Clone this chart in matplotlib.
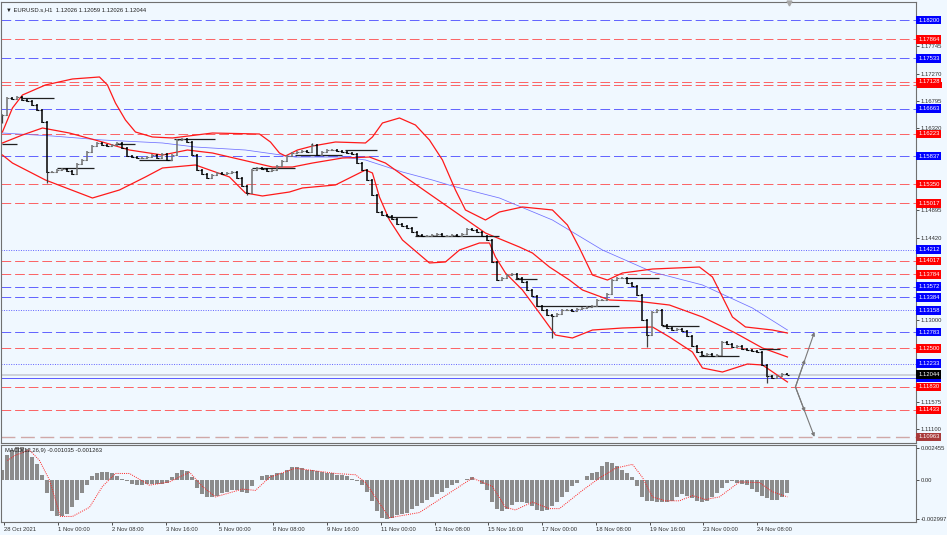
#!/usr/bin/env python3
"""
EURUSD H1 chart (MT4 style) — price bars, Bollinger envelope, MA,
support/resistance levels and MACD(12,26,9) sub-window.
"""

import numpy as np
import matplotlib
matplotlib.use("Agg")
import matplotlib.pyplot as plt
from matplotlib.patches import Rectangle
from matplotlib.transforms import blended_transform_factory

# ─── TEXTS ────────────────────────────────────────────────────────
TITLE_TEXT = "\u25BC EURUSD.s,H1  1.12026 1.12059 1.12026 1.12044"
MACD_TEXT = "MACD(12,26,9) -0.001035 -0.001263"

# ─── PRICE (one value per grid step, ~3 H1 bars) ──────────────────
closes = [
    1.16551, 1.16846, 1.16829, 1.16863, 1.16811, 1.16794, 1.16724, 1.16638,
    1.16429, 1.15561, 1.15561, 1.15596, 1.15613, 1.15578, 1.15526, 1.15700,
    1.15769, 1.15908, 1.16012, 1.16065, 1.16030, 1.16012, 1.16030, 1.16065,
    1.15978, 1.15839, 1.15821, 1.15804, 1.15804, 1.15821, 1.15856, 1.15804,
    1.15874, 1.15769, 1.15856, 1.16117, 1.16134, 1.16082, 1.15856, 1.15596,
    1.15526, 1.15457, 1.15509, 1.15544, 1.15526, 1.15544, 1.15561, 1.15457,
    1.15318, 1.15197, 1.15596, 1.15631, 1.15613, 1.15578, 1.15596, 1.15665,
    1.15752, 1.15839, 1.15891, 1.15908, 1.15926, 1.15908, 1.16030, 1.15856,
    1.15908, 1.15943, 1.15943, 1.15926, 1.15908, 1.15891, 1.15874, 1.15717,
    1.15596, 1.15422, 1.15162, 1.14867, 1.14815, 1.14797, 1.14745, 1.14658,
    1.14624, 1.14589, 1.14520, 1.14467, 1.14450, 1.14450, 1.14467, 1.14485,
    1.14450, 1.14450, 1.14467, 1.14450, 1.14485, 1.14572, 1.14554, 1.14520,
    1.14450, 1.14381, 1.13999, 1.13686, 1.13721, 1.13773, 1.13790, 1.13721,
    1.13652, 1.13513, 1.13408, 1.13235, 1.13165, 1.13079, 1.13061, 1.13096,
    1.13165, 1.13165, 1.13148, 1.13183, 1.13200, 1.13218, 1.13235, 1.13339,
    1.13339, 1.13443, 1.13686, 1.13721, 1.13721, 1.13634, 1.13582, 1.13426,
    1.12992, 1.12731, 1.13131, 1.13165, 1.12905, 1.12853, 1.12818, 1.12836,
    1.12801, 1.12714, 1.12540, 1.12436, 1.12384, 1.12402, 1.12367, 1.12384,
    1.12610, 1.12575, 1.12523, 1.12540, 1.12488, 1.12471, 1.12454, 1.12436,
    1.12211, 1.12020, 1.11985, 1.12020, 1.12054, 1.12044,
]
# single-bar wicks
spike_k = [0, 9, 49, 62, 110, 129, 153]
spike_price = [1.16412, 1.15370, 1.15162, 1.16065, 1.12679, 1.12523, 1.11898]

# ─── BOLLINGER ENVELOPE (red) ─────────────────────────────────────
bb_up_k = [0, 2, 4, 8.6, 14, 19.4, 21, 22.6, 24.6, 26.6, 30, 34, 42, 51.4,
           53.6, 55.4, 56.6, 59, 62, 66.6, 72.6, 74, 76, 79.4, 82.6, 85.4,
           88, 90.6, 92.6, 96.6, 99.4, 104, 110, 113, 115.4, 118, 121, 124,
           130, 139.4, 142, 144.6, 146, 148.6, 154, 157]
bb_up = [1.16256, 1.16672, 1.16898, 1.17072, 1.17176, 1.17211, 1.17072,
         1.16759, 1.16464, 1.16256, 1.16169, 1.16152, 1.16238, 1.16221,
         1.16082, 1.15891, 1.15839, 1.15943, 1.16012, 1.16082, 1.16065,
         1.16169, 1.16412, 1.16499, 1.16377, 1.16117, 1.15770, 1.15249,
         1.14902, 1.14728, 1.14867, 1.14954, 1.14902, 1.14641, 1.14242,
         1.13773, 1.13686, 1.13808, 1.13877, 1.13912, 1.13739, 1.13287,
         1.13044, 1.12871, 1.12818, 1.12766]

bb_mid_k = [0, 4, 8, 13.4, 20, 25.4, 32, 37, 42, 48, 54, 58, 62, 68, 73.4,
            76.6, 83.4, 90, 96.6, 100, 103.4, 106, 109.4, 113.4, 116, 121.4,
            126.6, 133.4, 140, 146.6, 152, 157]
bb_mid = [1.16065, 1.16204, 1.16325, 1.16238, 1.16082, 1.15943, 1.15856,
          1.15943, 1.15891, 1.15770, 1.15648, 1.15648, 1.15717, 1.15804,
          1.15821, 1.15717, 1.15301, 1.14902, 1.14502, 1.14381, 1.14259,
          1.14155, 1.13912, 1.13686, 1.13513, 1.13339, 1.13322, 1.13252,
          1.13044, 1.12766, 1.12506, 1.12350]

bb_low_k = [0, 2, 8.6, 18, 23.4, 28.6, 32, 38.6, 45.4, 48.6, 52, 57.4, 60,
            66.6, 72.6, 74, 75.4, 77.4, 80, 85.4, 88.6, 91.4, 95.4, 97.4,
            98.6, 100.6, 104, 107.4, 110.6, 114, 118, 124, 130, 133.4, 138,
            140, 144, 149, 152, 157]
bb_low = [1.15856, 1.15717, 1.15422, 1.15110, 1.15249, 1.15475, 1.15631,
          1.15683, 1.15475, 1.15197, 1.15145, 1.15214, 1.15284, 1.15336,
          1.15596, 1.15544, 1.15127, 1.14728, 1.14381, 1.13982, 1.13999,
          1.14207, 1.14329, 1.14329, 1.14086, 1.13808, 1.13513, 1.13114,
          1.12731, 1.12680, 1.12818, 1.12853, 1.12871, 1.12697, 1.12436,
          1.12159, 1.12089, 1.12228, 1.12211, 1.11916]

# ─── MOVING AVERAGE (blue) ────────────────────────────────────────
ma_k = [0, 10, 20, 32, 38.6, 48.6, 58.6, 68, 72.6, 80, 86, 90, 99.4, 110,
        120, 130, 140, 150, 157]
ma = [1.16238, 1.16186, 1.16117, 1.16065, 1.15995, 1.15943, 1.15821,
      1.15821, 1.15770, 1.15561, 1.15422, 1.15318, 1.15110, 1.14728,
      1.14207, 1.13825, 1.13600, 1.13200, 1.12818]

# ─── BLACK LEVEL SEGMENTS (k start, k end, price) ─────────────────
seg_k0 = [0, 4, 11, 22.6, 27.4, 34.4, 50, 58.6, 68.6, 77, 82.6, 102.6,
          107, 124.6, 132, 139.4, 151.4]
seg_k1 = [3, 10.4, 18.4, 26.6, 34, 42.6, 58.6, 68, 75, 83, 99.4, 107,
          123.4, 131.4, 139.4, 147.4, 155.6]
seg_price = [1.16047, 1.16846, 1.15631, 1.16047, 1.15770, 1.16134, 1.15631,
             1.15856, 1.15943, 1.14780, 1.14450, 1.13704, 1.13235, 1.13721,
             1.12888, 1.12367, 1.12488]

# ─── HORIZONTAL LEVELS ────────────────────────────────────────────
levels_blue = [1.18200, 1.17533, 1.16663, 1.15837, 1.13572, 1.13384, 1.12783]
levels_red = [1.17864, 1.17128, 1.16223, 1.15350, 1.15017, 1.14017,
              1.13784, 1.12500, 1.11830, 1.11433]
level_red_hidden = 1.17080      # second line right under 1.17128, label covered
levels_dotted = [1.14212, 1.13158, 1.12233]
level_low = 1.10963
bid_price = 1.12044
ask_line = 1.11986

price_ticks = [1.17745, 1.17270, 1.16795, 1.16320, 1.14895, 1.14420,
               1.13000, 1.11575, 1.11100]

# projection arrows
arrow_k0, arrow_k1 = 158.6, 162.4
arrow_from = 1.11830
arrow_targets = [1.12783, 1.10963]

# ─── MACD ─────────────────────────────────────────────────────────
macd_hist = [
    0.0008, 0.0019, 0.0023, 0.0025, 0.0025, 0.0024, 0.0018, 0.0012,
    0.0004, -0.0010, -0.0024, -0.0028, -0.0028, -0.0026, -0.0021, -0.0015,
    -0.0010, -0.0004, 0.0003, 0.0005, 0.0006, 0.0006, 0.0005, 0.0003,
    0.0001, -0.0001, -0.0003, -0.0004, -0.0004, -0.0003, -0.0003, -0.0003,
    -0.0003, -0.0002, 0.0002, 0.0005, 0.0008, 0.0007, 0.0002, -0.0006,
    -0.0011, -0.0013, -0.0013, -0.0012, -0.0010, -0.0009, -0.0008, -0.0008,
    -0.0009, -0.0010, -0.0005, 0.0000, 0.0003, 0.0004, 0.0004, 0.0005,
    0.0005, 0.0008, 0.0010, 0.0010, 0.0009, 0.0008, 0.0008, 0.0007,
    0.0006, 0.0005, 0.0005, 0.0004, 0.0004, 0.0003, 0.0001, -0.0001,
    -0.0004, -0.0009, -0.0016, -0.0024, -0.0029, -0.0030, -0.0029, -0.0027,
    -0.0026, -0.0025, -0.0022, -0.0020, -0.0018, -0.0015, -0.0013, -0.0011,
    -0.0009, -0.0006, -0.0004, -0.0002, 0.0000, 0.0001, 0.0002, 0.0000,
    -0.0003, -0.0008, -0.0017, -0.0022, -0.0024, -0.0022, -0.0019, -0.0017,
    -0.0017, -0.0018, -0.0020, -0.0023, -0.0024, -0.0023, -0.0020, -0.0017,
    -0.0013, -0.0009, -0.0005, -0.0002, 0.0000, 0.0003, 0.0005, 0.0006,
    0.0011, 0.0014, 0.0013, 0.0011, 0.0008, 0.0005, 0.0002, -0.0005,
    -0.0013, -0.0016, -0.0016, -0.0017, -0.0017, -0.0017, -0.0016, -0.0013,
    -0.0011, -0.0012, -0.0014, -0.0016, -0.0017, -0.0016, -0.0013, -0.0010,
    -0.0006, -0.0002, -0.0001, -0.0002, -0.0003, -0.0004, -0.0007, -0.0009,
    -0.0012, -0.0014, -0.0015, -0.0015, -0.0013, -0.0010,
]
signal_k = [1, 2.6, 5.4, 7.4, 9.4, 11.6, 14, 17.4, 20, 22.6, 25.4, 29.4,
            33.4, 37.4, 40, 42.6, 48, 50.6, 53.4, 58.6, 66.6, 70.6, 72.6,
            77.4, 83.4, 88.6, 94, 98, 100.6, 102.6, 106, 109.4, 111.4, 116,
            119.4, 122.6, 126, 128, 130, 132.6, 135.4, 138, 140.6, 143.4,
            147.4, 151.4, 154, 157]
signal = [0.0015, 0.0019, 0.0023, 0.0015, 0.0000, -0.0028, -0.0028,
          -0.0021, -0.0005, 0.0005, 0.0005, -0.0004, -0.00015, 0.0006,
          -0.0005, -0.0013, -0.0007, -0.0008, 0.0002, 0.0009, 0.0005, 0.0004,
          -0.0002, -0.0029, -0.0025, -0.0012, 0.00015, -0.0005, -0.0021,
          -0.0023, -0.0017, -0.0022, -0.0022, -0.0008, 0.00015, 0.0009,
          0.0012, 0.0002, -0.0013, -0.0016, -0.0016, -0.0012, -0.0015,
          -0.0013, -0.00015, -0.0002, -0.0009, -0.0013]
macd_ticks = [0.002455, 0.0, -0.002997]
macd_tick_labels = ["0.002455", "0.00", "-0.002997"]

# ─── TIME AXIS ────────────────────────────────────────────────────
date_labels = ["28 Oct 2021", "1 Nov 00:00", "2 Nov 08:00", "3 Nov 16:00",
               "5 Nov 00:00", "8 Nov 08:00", "9 Nov 16:00", "11 Nov 00:00",
               "12 Nov 08:00", "15 Nov 16:00", "17 Nov 00:00", "18 Nov 08:00",
               "19 Nov 16:00", "23 Nov 00:00", "24 Nov 08:00"]
HOURS_PER_LABEL = 32
K_PER_HOUR = 0.336          # grid steps per H1 bar

# ─── STYLE ────────────────────────────────────────────────────────
BG = "#F0F8FF"
BLUE = "#3C3CFF"
RED = "#FF3C3C"
FONT = "Liberation Sans"
FS = 4.2


def level_box(ax, price, text, color, tcolor="white"):
    trans = blended_transform_factory(ax.transAxes, ax.transData)
    ax.text(1.0025, price, text, transform=trans, ha="left", va="center",
            fontsize=FS, color=tcolor, family=FONT, clip_on=False, zorder=10,
            bbox=dict(boxstyle="square,pad=0.3", fc=color, ec="none"))


def main():
    fig = plt.figure(figsize=(9.47, 5.35), dpi=100, facecolor=BG)
    ax = fig.add_axes([0.001, 1 - 443 / 535, 915 / 947, 441 / 535])
    axm = fig.add_axes([0.001, 1 - 522 / 535, 915 / 947, 77 / 535])
    for a in (ax, axm):
        a.set_facecolor(BG)
        for sp in a.spines.values():
            sp.set_color("#707070")
            sp.set_linewidth(0.8)
        a.set_xlim(-0.3, 182.7)

    # levels
    for p in levels_blue:
        ax.axhline(p, color=BLUE, lw=0.7, ls=(0, (10, 4)), alpha=0.8, zorder=1)
    for p in levels_red + [level_red_hidden]:
        ax.axhline(p, color=RED, lw=0.7, ls=(0, (10, 4)), alpha=0.8, zorder=1)
    for p in levels_dotted:
        ax.axhline(p, color=BLUE, lw=0.7, ls=(0, (1, 1.5)), alpha=0.8, zorder=1)
    ax.axhline(level_low, color="#D0A8A8", lw=1.0, ls=(0, (10, 4)), zorder=1)
    ax.axhline(bid_price, color="#C8CCD4", lw=1.2, zorder=1)
    ax.axhline(ask_line, color="#5A5AFF", lw=0.7, zorder=1)

    # indicators
    ax.plot(ma_k, ma, color="#7070FF", lw=0.55, zorder=2)
    for xs, ys in ((bb_up_k, bb_up), (bb_mid_k, bb_mid), (bb_low_k, bb_low)):
        ax.plot(xs, ys, color="#FF1A1A", lw=0.9, zorder=3)

    # level segments
    ax.hlines(seg_price, seg_k0, seg_k1, color="#202020", lw=0.9, zorder=4)

    # price bars
    c = np.array(closes)
    k = np.arange(len(c))
    prev = np.concatenate([[c[0]], c[:-1]])
    up = c >= prev
    lo = np.minimum(prev, c)
    hi = np.maximum(prev, c)
    for mask, col in ((up, "#707070"), (~up, "#000000")):
        ax.vlines(k[mask], lo[mask] - 0.00012, hi[mask] + 0.00012, color=col,
                  lw=1.1, zorder=5)
        ax.hlines(prev[mask], k[mask] - 0.4, k[mask], color=col, lw=0.8, zorder=5)
        ax.hlines(c[mask], k[mask], k[mask] + 0.4, color=col, lw=0.8, zorder=5)
    ax.vlines(spike_k, c[spike_k], spike_price, color="#404040", lw=0.9, zorder=5)

    # projection arrows
    for tgt in arrow_targets:
        mid_k = (arrow_k0 + arrow_k1) / 2
        mid_p = (arrow_from + tgt) / 2
        props = dict(arrowstyle="-|>", color="#7A7A7A", lw=0.8,
                     mutation_scale=5, shrinkA=0, shrinkB=0)
        ax.annotate("", xy=(arrow_k1, tgt), xytext=(arrow_k0, arrow_from),
                    arrowprops=props, zorder=6)
        ax.annotate("", xy=(mid_k, mid_p), xytext=(arrow_k0, arrow_from),
                    arrowprops=props, zorder=6)

    ax.set_ylim(1.108567, 1.185125)
    ax.yaxis.tick_right()
    ax.set_yticks(price_ticks)
    ax.set_yticklabels([f"{p:.5f}" for p in price_ticks])
    ax.tick_params(axis="y", length=2, width=0.6, pad=1.5, labelsize=FS,
                   colors="#303030")
    ax.set_xticks([])
    for lab in ax.get_yticklabels():
        lab.set_family(FONT)

    # right-hand price boxes
    trans = blended_transform_factory(ax.transAxes, ax.transData)
    ax.add_patch(Rectangle((1.0015, level_red_hidden - 0.0006), 0.0265, 0.0010,
                           transform=trans, fc="#FF0000", ec="none",
                           clip_on=False, zorder=9))
    for p in levels_blue:
        level_box(ax, p, f"{p:.5f}", "#0000FF")
    for p in levels_red:
        level_box(ax, p, f"{p:.5f}", "#FF0000")
    for p in levels_dotted:
        level_box(ax, p, f"{p:.5f}", "#0000FF")
    level_box(ax, level_low, f"{level_low:.5f}", "#A83A3A")
    level_box(ax, ask_line, f"{ask_line:.5f}", "#0000FF")
    level_box(ax, bid_price, f"{bid_price:.5f}", "#000000")

    ax.text(0.005, 0.988, TITLE_TEXT, transform=ax.transAxes, ha="left",
            va="top", fontsize=FS, family=[FONT, "DejaVu Sans"], color="#202020")
    ax.plot([157.4], [1.18500], marker="v", ms=3.5, color="#A8A8A8",
            clip_on=False, zorder=7)

    # MACD window
    mk = np.arange(len(macd_hist))
    axm.bar(mk, macd_hist, width=0.78, color="#8C8C8C", zorder=2)
    axm.plot(signal_k, signal, color="#FF2020", lw=0.7, ls=(0, (1, 1.2)), zorder=3)
    axm.set_ylim(-0.003227, 0.002685)
    axm.yaxis.tick_right()
    axm.set_yticks(macd_ticks)
    axm.set_yticklabels(macd_tick_labels)
    axm.tick_params(axis="y", length=2, width=0.6, pad=1.5, labelsize=FS,
                    colors="#303030")
    axm.text(0.004, 0.96, MACD_TEXT, transform=axm.transAxes, ha="left",
             va="top", fontsize=FS, family=FONT, color="#202020", zorder=5)

    tick_k = [0.4 + i * HOURS_PER_LABEL * K_PER_HOUR for i in range(len(date_labels))]
    axm.set_xticks(tick_k)
    axm.set_xticklabels(date_labels)
    axm.tick_params(axis="x", length=2, width=0.6, pad=1.5, labelsize=FS,
                    colors="#303030")
    for lab in axm.get_xticklabels() + axm.get_yticklabels():
        lab.set_family(FONT)
    for lab in axm.get_xticklabels():
        lab.set_horizontalalignment("left")

    fig.savefig("out.png", dpi=100, facecolor=BG)


if __name__ == "__main__":
    main()
